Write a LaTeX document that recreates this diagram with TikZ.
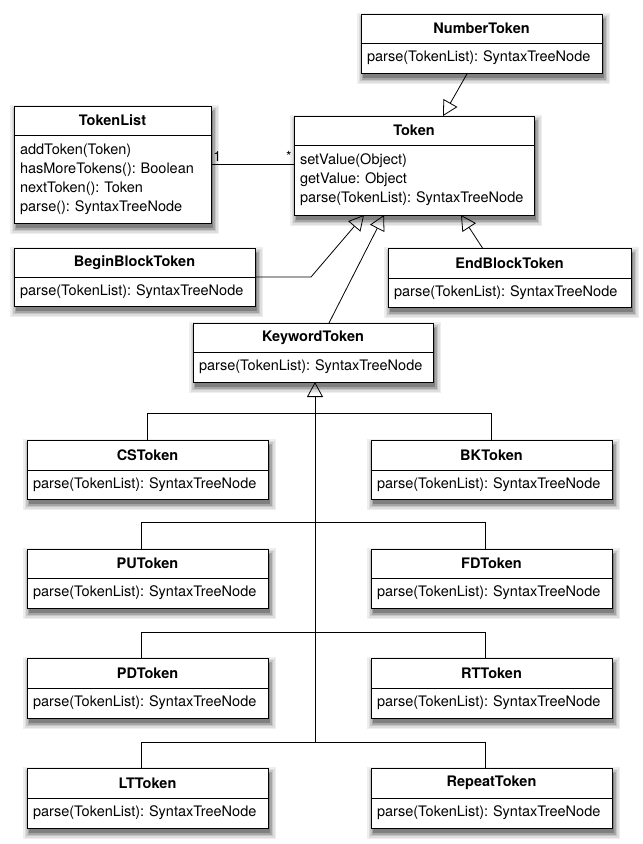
\documentclass[tikz,border=0pt]{standalone}
\usepackage{fontspec}
\setmainfont{TeX Gyre Heros}
\usetikzlibrary{arrows.meta}
\frenchspacing
\definecolor{shA}{RGB}{238,238,238}
\definecolor{shB}{RGB}{222,222,222}
\definecolor{shC}{RGB}{198,198,198}
\definecolor{shD}{RGB}{165,165,165}
\definecolor{shE}{RGB}{128,128,128}
\tikzset{
  hdr/.style={draw=black,fill=white,line width=0.8pt,anchor=north west,inner sep=0pt,outer sep=0pt,
    font=\bfseries\fontsize{14.5}{19}\selectfont},
  bdy/.style={draw=black,fill=white,line width=0.8pt,anchor=north west,inner xsep=6pt,inner ysep=0pt,outer sep=0pt,
    align=left,font=\fontsize{14.5}{19}\selectfont},
  inh/.style={-{Triangle[open,length=15pt,width=16pt]},line width=0.8pt},
  conn/.style={line width=0.8pt},
  mult/.style={font=\fontsize{14}{16}\selectfont,inner sep=2pt},
}
\newcommand\shadelayer[6]{%
  \path[fill=#6] ({#1+2-#5},{#2+5-#5}) rectangle ({#1+2+#3+#5},{#2+5+#4+#5});}
\newcommand\umlclass[8]{%
  \shadelayer{#2}{#3}{#4}{#5+#6}{6}{shA}
  \shadelayer{#2}{#3}{#4}{#5+#6}{4.5}{shB}
  \shadelayer{#2}{#3}{#4}{#5+#6}{3}{shC}
  \shadelayer{#2}{#3}{#4}{#5+#6}{1.5}{shD}
  \shadelayer{#2}{#3}{#4}{#5+#6}{0}{shE}
  \node[hdr,minimum width=#4pt,minimum height=#5pt] (#1h) at (#2,#3) {#7};
  \node[bdy,text width=#4pt-12pt,minimum height=#6pt] (#1b) at (#1h.south west) {#8};
}
\newcommand\ps{parse(TokenList): SyntaxTreeNode}
\begin{document}
\begin{tikzpicture}[x=1pt,y=-1pt]
\path[fill=white] (0,0) rectangle (643,844);
\useasboundingbox (0,0) rectangle (643,844);

\umlclass{nt}{361}{14}{241}{29}{30}{NumberToken}{\ps}
\umlclass{tl}{14}{106}{197}{29}{88}{TokenList}{addToken(Token)\\hasMoreTokens(): Boolean\\nextToken(): Token\\parse(): SyntaxTreeNode}
\umlclass{tok}{294}{116}{240}{29}{70}{Token}{setValue(Object)\\getValue: Object\\\ps}
\umlclass{bb}{14}{248}{241}{29}{29}{BeginBlockToken}{\ps}
\umlclass{eb}{388}{248}{243}{30}{29}{EndBlockToken}{\ps}
\umlclass{kw}{193}{323}{240}{29}{30}{KeywordToken}{\ps}
\umlclass{cs}{27}{440}{241}{30}{29}{CSToken}{\ps}
\umlclass{bk}{371}{440}{241}{30}{29}{BKToken}{\ps}
\umlclass{pu}{27}{549}{241}{29}{30}{PUToken}{\ps}
\umlclass{fd}{371}{549}{241}{29}{30}{FDToken}{\ps}
\umlclass{pd}{27}{658}{241}{30}{30}{PDToken}{\ps}
\umlclass{rt}{371}{658}{241}{30}{30}{RTToken}{\ps}
\umlclass{lt}{27}{768}{241}{30}{30}{LTToken}{\ps}
\umlclass{rp}{371}{768}{241}{30}{30}{RepeatToken}{\ps}

% association
\draw[conn] ([yshift=15pt]tlb.east) -- node[pos=0,above right,mult]{1} node[pos=1,above left,mult]{*} ([yshift=15pt]tlb.east -| tokb.west);

% generalisations to Token
\draw[inh] ([xshift=-14pt]ntb.south) -- ([xshift=29pt]tokh.north);
\draw[inh] (bbh.south east) -- ++(56,0) -- ([xshift=-50pt]tokb.south);
\draw[inh] ([xshift=16pt]kwh.north) -- ([xshift=-30pt]tokb.south);
\draw[inh] ([xshift=-27pt]ebh.north) -- ([xshift=47pt]tokb.south);

% tree to KeywordToken
\coordinate (trunk) at (315,742);
\draw[inh] (trunk) -- (trunk |- kwb.south);
\draw[conn] (csh.north) -- ++(0,-27) -| (bkh.north);
\draw[conn] ([xshift=-6.5pt]puh.north) -- ++(0,-27) -| ([xshift=-6.5pt]fdh.north);
\draw[conn] ([xshift=-6.5pt]pdh.north) -- ++(0,-26) -| ([xshift=-6.5pt]rth.north);
\draw[conn] ([xshift=-6.5pt]lth.north) -- ++(0,-26) -| ([xshift=-6.5pt]rph.north);
\end{tikzpicture}
\end{document}
